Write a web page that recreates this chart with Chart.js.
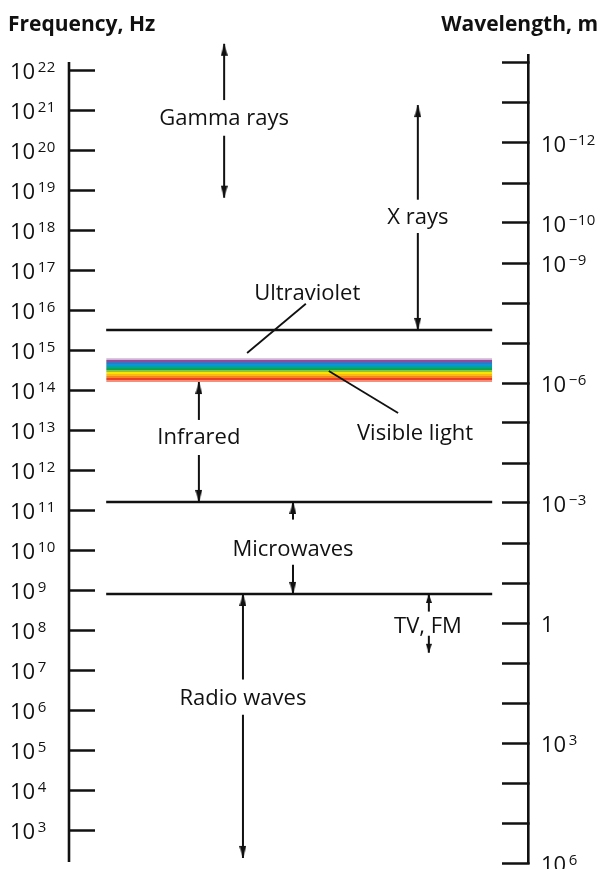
<!DOCTYPE html>
<html>
<head>
<meta charset="utf-8">
<script src="https://cdn.jsdelivr.net/npm/chart.js@4.4.1/dist/chart.umd.min.js"></script>
<style>
  html, body { margin: 0; padding: 0; background: #fff; }
  canvas { display: block; }
</style>
</head>
<body>
<canvas id="spectrumChart" width="603" height="869"></canvas>
<script>
// powers of ten on the two axes
var freqExps = [3, 4, 5, 6, 7, 8, 9, 10, 11, 12, 13, 14, 15, 16, 17, 18, 19, 20, 21, 22];
var waveExps = [-14, -13, -12, -11, -10, -9, -8, -7, -6, -5, -4, -3, -2, -1, 0, 1, 2, 3, 4, 5, 6];
var waveLabelExps = [-12, -10, -9, -6, -3, 0, 3, 6];

// regions and the frequency (Hz) each name sits at
var bandNames = ['Gamma rays', 'X rays', 'Ultraviolet', 'Visible light', 'Infrared', 'Microwaves', 'TV, FM', 'Radio waves'];
var bandLabelHz = [6.8e20, 2.3e18, 2.9e16, 9.1e12, 7.2e12, 1.15e10, 1.35e8, 2.1e6];

// boundary lines between regions, Hz
var boundaryHz = [3.2e15, 1.6e11, 8e8];
// visible light band, Hz (bottom, top)
var visibleHz = [1.6e14, 6.3e14];

// arrows, Hz: [shaft end, tip]
var arrowUpHz = [[1.8e21, 4.6e22], [5.8e18, 1.35e21], null, null, [1.8e13, 1.6e14], [5.8e10, 1.6e11], [2.9e8, 8e8], [5.8e6, 8e8]];
var arrowDownHz = [[2.3e20, 6.5e18], [8.5e17, 3.2e15], null, null, [2.4e12, 1.6e11], [4.3e9, 8e8], [7.2e7, 2.7e7], [7.6e5, 200]];

// pointer lines to the thin bands, Hz: [from, to]
var leaderHz = [null, null, [1.45e16, 8.5e14], [3.0e14, 2.7e13], null, null, null, null];

// colour stripes of the visible band, top to bottom
var rainbow = ['#d3b2d8', '#8e4c9c', '#2f78c4', '#0a96d6', '#02a39b', '#0aa552', '#8cc43f', '#fde300', '#fcb814', '#f6861f', '#ec3d25', '#f58f7a'];

// horizontal placement on a 0..100 scale across the plot
var layoutX = {
  lineFrom: 8.1,
  lineTo: 92.2,
  names: [33.8, 76.0, 51.9, 75.4, 28.3, 48.8, 78.2, 37.9],
  arrows: [33.8, 76.0, null, null, 28.3, 48.8, 78.4, 37.9],
  leaders: [null, null, [51.6, 38.8], [56.6, 71.7], null, null, null, null]
};

var ink = '#111';
var fontName = '"Open Sans", "Noto Sans", sans-serif';

function arrowHead(w, h) {
  // tip in the centre, body below it
  var cv = document.createElement('canvas');
  cv.width = w;
  cv.height = h * 2 + 2;
  var c = cv.getContext('2d');
  c.fillStyle = ink;
  c.beginPath();
  c.moveTo(w / 2, h + 1);
  c.lineTo(w, h * 2 + 1);
  c.lineTo(0, h * 2 + 1);
  c.closePath();
  c.fill();
  return cv;
}
var bigHead = arrowHead(7, 12);
var smallHead = arrowHead(6, 9);

function segment(x0, x1, y0, y1, extra) {
  var ds = {
    data: [{ x: x0, y: y0 }, { x: x1, y: y1 }],
    borderColor: ink,
    borderWidth: 2,
    pointRadius: 0,
    clip: false,
    yAxisID: 'yf'
  };
  for (var k in extra) ds[k] = extra[k];
  return ds;
}

var datasets = [];

// region names' arrows
bandNames.forEach(function (name, i) {
  var ax = layoutX.arrows[i];
  var head = name === 'TV, FM' ? smallHead : bigHead;
  if (arrowUpHz[i]) {
    datasets.push(segment(ax, ax, arrowUpHz[i][0], arrowUpHz[i][1], {
      pointRadius: [0, 30], pointStyle: head, pointRotation: 0
    }));
  }
  if (arrowDownHz[i]) {
    datasets.push(segment(ax, ax, arrowDownHz[i][0], arrowDownHz[i][1], {
      pointRadius: [0, 30], pointStyle: head, pointRotation: 180
    }));
  }
  if (leaderHz[i]) {
    datasets.push(segment(layoutX.leaders[i][0], layoutX.leaders[i][1], leaderHz[i][0], leaderHz[i][1], {
      borderWidth: 1.8
    }));
  }
});

// boundary lines
boundaryHz.forEach(function (hz) {
  datasets.push(segment(layoutX.lineFrom, layoutX.lineTo, hz, hz, { borderWidth: 2.4 }));
});

// visible band: top edge, then bottom edge filled up to it
datasets.push(segment(layoutX.lineFrom, layoutX.lineTo, visibleHz[1], visibleHz[1], { borderWidth: 0 }));
datasets.push(segment(layoutX.lineFrom, layoutX.lineTo, visibleHz[0], visibleHz[0], {
  borderWidth: 0,
  fill: '-1',
  backgroundColor: function (context) {
    var chart = context.chart;
    if (!chart.chartArea) return 'transparent';
    var yf = chart.scales.yf;
    var top = yf.getPixelForValue(visibleHz[1]);
    var bottom = yf.getPixelForValue(visibleHz[0]);
    var g = chart.ctx.createLinearGradient(0, top, 0, bottom);
    var n = rainbow.length;
    rainbow.forEach(function (col, j) {
      g.addColorStop(j / n, col);
      g.addColorStop((j + 1) / n - 0.0001, col);
    });
    return g;
  }
}));

function supLabel(c, x, y, e) {
  var base = e === 0 ? '1' : '10';
  c.textAlign = 'left';
  c.letterSpacing = '0px';
  c.font = '22px ' + fontName;
  c.fillText(base, x, y + 8.5);
  if (e === 0) return;
  var w = c.measureText(base).width;
  c.font = '15px ' + fontName;
  c.letterSpacing = '0.5px';
  c.fillText(e < 0 ? '\u2212' + Math.abs(e) : String(e), x + w + 2.5, y + 1.5);
  c.letterSpacing = '0px';
}

var spectrumText = {
  id: 'spectrumText',
  beforeDatasetsDraw: function (chart) {
    // frequency axis line, a little shorter at the top than the plot
    var c = chart.ctx;
    var a = chart.chartArea;
    c.save();
    c.strokeStyle = ink;
    c.lineWidth = 2.6;
    c.beginPath();
    c.moveTo(a.left, a.top + 7);
    c.lineTo(a.left, a.bottom - 1);
    c.stroke();
    c.restore();
  },
  afterDraw: function (chart) {
    var c = chart.ctx;
    var yf = chart.scales.yf;
    var yw = chart.scales.yw;
    var xs = chart.scales.x;
    c.save();
    c.fillStyle = ink;
    c.textBaseline = 'alphabetic';

    c.font = 'bold 21px ' + fontName;
    c.textAlign = 'left';
    c.fillText('Frequency, Hz', 8, 31);
    c.textAlign = 'right';
    c.fillText('Wavelength, m', 598, 31);

    freqExps.forEach(function (e) {
      supLabel(c, 10, yf.getPixelForValue(Math.pow(10, e)), e);
    });
    waveLabelExps.forEach(function (e) {
      supLabel(c, 541, yw.getPixelForValue(Math.pow(10, e)), e);
    });

    c.font = '22px ' + fontName;
    c.textAlign = 'center';
    bandNames.forEach(function (name, i) {
      c.fillText(name, xs.getPixelForValue(layoutX.names[i]), yf.getPixelForValue(bandLabelHz[i]) + 8);
    });
    c.restore();
  }
};

function axisStyle(showBorder) {
  return {
    grid: { drawOnChartArea: false, drawTicks: true, tickLength: -26, tickWidth: 2.5, tickColor: ink },
    border: { display: showBorder, color: ink, width: 2.6 },
    ticks: { display: false }
  };
}

var ctx = document.getElementById('spectrumChart').getContext('2d');
var spectrumChart = new Chart(ctx, {
  type: 'line',
  data: { datasets: datasets },
  plugins: [spectrumText],
  options: {
    responsive: false,
    animation: false,
    devicePixelRatio: 1,
    layout: { autoPadding: false, padding: { top: 55, bottom: 6, left: 0, right: 0 } },
    plugins: { legend: { display: false }, tooltip: { enabled: false } },
    scales: {
      x: { type: 'linear', min: 0, max: 100, display: false },
      yf: Object.assign({
        type: 'logarithmic',
        position: 'left',
        bounds: 'data',
        min: Math.pow(10, 2.175),
        max: Math.pow(10, 22.3825),
        afterBuildTicks: function (scale) {
          scale.ticks = freqExps.map(function (e) { return { value: Math.pow(10, e) }; });
        },
        afterFit: function (scale) { scale.width = 69; }
      }, axisStyle(false)),
      yw: Object.assign({
        type: 'logarithmic',
        position: 'right',
        display: true,
        reverse: true,
        bounds: 'data',
        min: Math.pow(10, -14.2),
        max: Math.pow(10, 6),
        afterBuildTicks: function (scale) {
          scale.ticks = waveExps.map(function (e) { return { value: Math.pow(10, e) }; });
        },
        afterFit: function (scale) { scale.width = 75; }
      }, axisStyle(true))
    }
  }
});
</script>
</body>
</html>
